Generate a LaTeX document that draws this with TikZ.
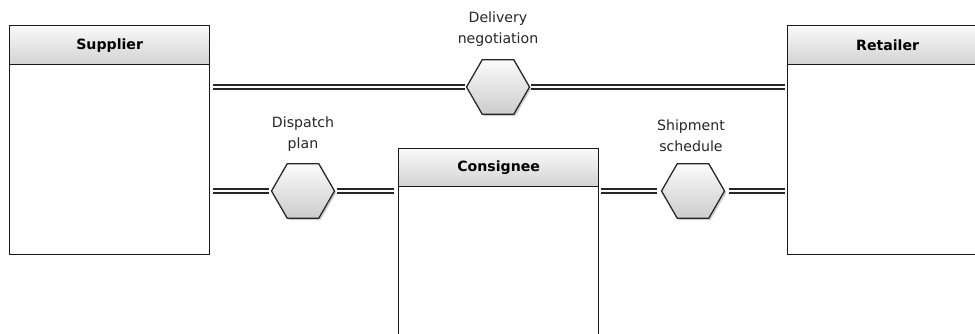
\documentclass[tikz,border=0pt]{standalone}
\usepackage{fontspec}
\setmainfont{DejaVu Sans}
\usetikzlibrary{shapes.geometric,shadows}
\begin{document}
\begin{tikzpicture}[x=0.75pt,y=-0.75pt,
  lane/.style={draw=black!90, line width=0.95pt, fill=white, inner sep=0,
    anchor=north west, minimum width=150pt},
  head/.style={draw=black!90, line width=0.95pt, top color=gray!4, bottom color=gray!35,
    anchor=north west, inner sep=0, minimum width=150pt,
    font=\bfseries\fontsize{10.6}{12}\selectfont},
  hexa/.style={regular polygon, regular polygon sides=6, minimum size=47.25pt, inner sep=0,
    draw=black!85, line width=0.95pt, top color=gray!3, bottom color=gray!40,
    drop shadow={shadow xshift=1.3pt, shadow yshift=-1.3pt, opacity=0.4}},
  link/.style={draw=black!85, line width=0.9pt, double=white, double distance=2.1pt},
  tag/.style={align=center, font=\fontsize{10.6}{15.75}\selectfont, anchor=south, inner sep=0,
    text=black!85}
]
\useasboundingbox (0,0) rectangle (975,334);
\clip (0,0) rectangle (975,334);

% participants
\node[lane, minimum height=171.75pt] (sup) at (9,25) {};
\node[head, minimum height=29.25pt] (suph) at (9,25) {Supplier};
\node[lane, minimum height=171.75pt] (ret) at (787,25) {};
\node[head, minimum height=29.25pt] (reth) at (787,25) {Retailer};
\node[lane, minimum height=147.75pt] (con) at (398,148) {};
\node[head, minimum height=28.5pt] (conh) at (398,148) {Consignee};

% interactions
\node[hexa] (hexD) at (498,87) {};
\node[hexa] (hexP) at (303,191) {};
\node[hexa] (hexS) at (693,191) {};

\node[tag] (tagD) at ([yshift=9pt]hexD.north) {Delivery\\negotiation};
\node[tag] (tagP) at ([yshift=8.25pt]hexP.north) {Dispatch\\plan};
\node[tag] (tagS) at ([yshift=8.25pt,xshift=-1.5pt]hexS.north) {Shipment\\schedule};

% links
\draw[link, shorten <=2.25pt, shorten >=0.75pt] (hexD -| sup.east) -- (hexD.west);
\draw[link, shorten <=0.75pt, shorten >=1.5pt] (hexD.east) -- (hexD -| ret.west);
\draw[link, shorten <=2.25pt, shorten >=1.5pt] (hexP -| sup.east) -- (hexP.west);
\draw[link, shorten <=1.5pt, shorten >=3pt] (hexP.east) -- (hexP -| con.west);
\draw[link, shorten <=1.5pt, shorten >=3pt] (hexS -| con.east) -- (hexS.west);
\draw[link, shorten <=3pt, shorten >=1.5pt] (hexS.east) -- (hexS -| ret.west);
\end{tikzpicture}
\end{document}
